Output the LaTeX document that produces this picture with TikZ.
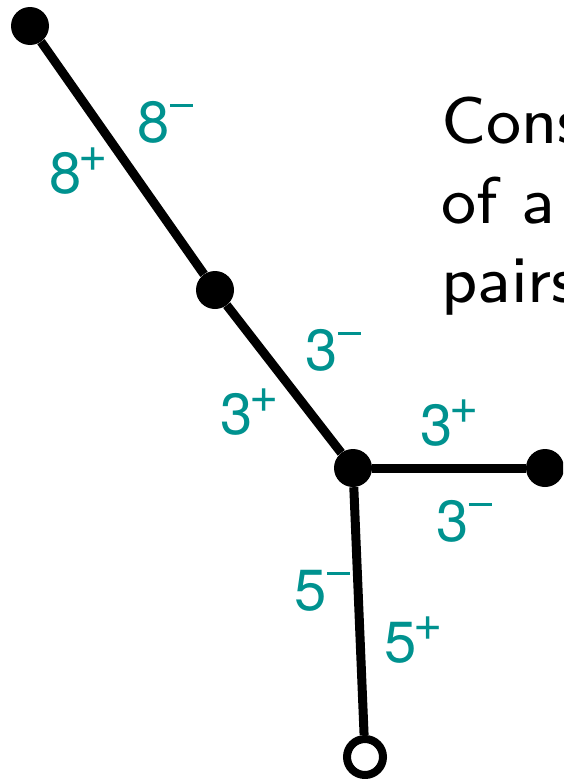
\documentclass[tikz,border=0pt]{standalone}
\usepackage{fontspec}
\newfontfamily\labfont{TeX Gyre Heros}
\newfontfamily\txtfont{lmsans8-regular.otf}
\definecolor{labteal}{RGB}{0,146,143}
\newcommand{\supp}{\hspace{-3pt}\raisebox{22pt}{\fontsize{50}{50}\selectfont +}}
\newcommand{\supm}{\hspace{0.5pt}\rule[35pt]{23pt}{3.5pt}}
\tikzset{
  dot/.style={circle,fill=black,inner sep=0pt,minimum size=38pt},
  opendot/.style={circle,draw=black,fill=white,line width=8pt,inner sep=0pt,minimum size=36pt},
  edge/.style={line width=9pt,black},
  lab/.style={anchor=base west,inner sep=0pt,text=labteal,font=\labfont\fontsize{58}{58}\selectfont},
  txt/.style={anchor=base west,inner sep=0pt,font=\txtfont\fontsize{66}{79}\selectfont}
}
\begin{document}
\begin{tikzpicture}[x=1pt,y=-1pt]
\useasboundingbox (0,0) rectangle (563,779);
\clip (0,0) rectangle (563,779);
\node[txt] (t1) at (441,143) {Cons};
\node[txt] (t2) at (441,223) {of a};
\node[txt] (t3) at (441,302) {pairs};
\node[dot] (a) at (30,26) {};
\node[dot] (b) at (215,290) {};
\node[dot] (c) at (353,468) {};
\node[dot] (d) at (545,468) {};
\node[opendot] (e) at (365,757) {};
\draw[edge] (a) -- (b);
\draw[edge] (b) -- (c);
\draw[edge] (c) -- (d);
\draw[edge] (c) -- (e);
\node[lab] (l1) at (137,142) {8\supm};
\node[lab] (l2) at (49,193) {8\supp};
\node[lab] (l3) at (305,370) {3\supm};
\node[lab] (l4) at (220,434) {3\supp};
\node[lab] (l5) at (420,445) {3\supp};
\node[lab] (l6) at (436,541) {3\supm};
\node[lab] (l7) at (294,610) {5\supm};
\node[lab] (l8) at (384,662) {5\supp};
\end{tikzpicture}
\end{document}
